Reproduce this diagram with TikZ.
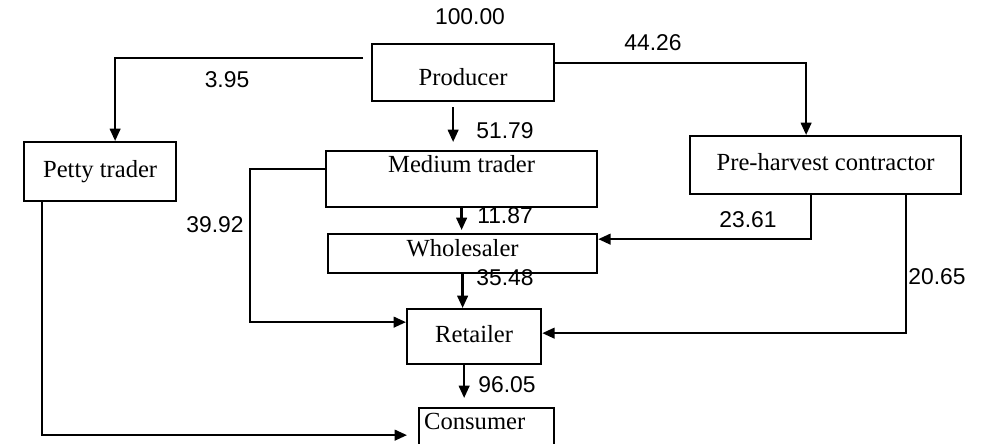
\documentclass[tikz,border=0pt]{standalone}
\usepackage{fontspec}
\setmainfont{Liberation Serif}
\newfontfamily\numfont{Liberation Sans}
\usepackage{tikz}
\usetikzlibrary{arrows.meta}

\begin{document}
\begin{tikzpicture}[
    x=0.02cm, y=-0.02cm,
    stagebox/.style = {
        rectangle, draw, line width=1.3pt,
        inner sep=0pt, anchor=north west,
        font=\fontsize{14}{16}\selectfont
    },
    numlabel/.style = {inner sep=0pt, font=\numfont\fontsize{13}{15}\selectfont},
    arr/.style = {-{Triangle[length=7pt,width=6pt]}, line width=1.3pt},
]
\useasboundingbox (0,0) rectangle (989,443);

% Top: producer
\node[stagebox, minimum width=3.64cm, text height=0.82cm, text depth=0.32cm] (prod) at (371,43) {Producer};

% Second row
\node[stagebox, minimum width=3.04cm, text height=0.70cm, text depth=0.48cm] (petty) at (23,141) {Petty trader};
\node[stagebox, minimum width=5.42cm, text height=0.42cm, text depth=0.70cm] (medium) at (325,150) {Medium trader};
\node[stagebox, minimum width=5.42cm, text height=0.68cm, text depth=0.48cm] (preh) at (689,135) {Pre-harvest contractor};

% Middle chain
\node[stagebox, minimum width=5.38cm, text height=0.44cm, text depth=0.34cm] (whole) at (327,233) {Wholesaler};
\node[stagebox, minimum width=2.68cm, text height=0.66cm, text depth=0.44cm] (retail) at (406,308) {Retailer};
\node[stagebox, text width=2.5cm, inner xsep=0.1cm, align=left, text height=0.42cm, text depth=0.66cm] (cons) at (418,407) {Consumer};

% Shares
\node[numlabel] (l100) at (470,17)  {100.00};
\node[numlabel] (l395) at (227,80)  {3.95};
\node[numlabel] (l4426) at (653,43) {44.26};
\node[numlabel] (l5179) at (505,131) {51.79};
\node[numlabel] (l1187) at (505,216) {11.87};
\node[numlabel] (l2361) at (748,220) {23.61};
\node[numlabel] (l3548) at (505,278) {35.48};
\node[numlabel] (l3992) at (215,225) {39.92};
\node[numlabel] (l2065) at (937,277) {20.65};
\node[numlabel] (l9605) at (507,385) {96.05};

% Arrows
\draw[arr, shorten <=0.16cm] ([yshift=0.29cm]prod.west) -| ([xshift=0.3cm]petty.north);
\draw[arr] ([yshift=0.19cm]prod.east) -| ([xshift=-0.39cm]preh.north);
\draw[arr, shorten <=0.1cm, shorten >=0.16cm] ([xshift=-0.2cm]prod.south) -- ([xshift=-0.2cm]prod.south |- medium.north);
\draw[arr, shorten >=0.06cm] (medium.south) -- (medium.south |- whole.north);
\draw[arr] ([xshift=-0.29cm]preh.south) |- ([yshift=0.29cm]whole.east);
\draw[arr] (whole.south) -- (whole.south |- retail.north);
\draw[arr] ([yshift=0.2cm]medium.west) -- ++(-75,0) |- ([yshift=0.29cm]retail.west);
\draw[arr] ([xshift=1.61cm]preh.south) |- ([yshift=0.07cm]retail.east);
\draw[arr, shorten >=0.18cm] ([xshift=-0.2cm]retail.south) -- ([xshift=-0.2cm]retail.south |- cons.north);
\draw[arr, shorten >=0.22cm] ([xshift=-1.16cm]petty.south) |- (cons.west);

\end{tikzpicture}
\end{document}
